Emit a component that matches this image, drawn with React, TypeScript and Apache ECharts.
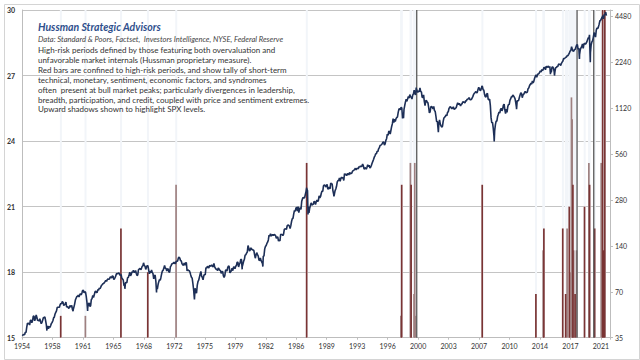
import React, { useEffect, useRef } from "react";
import * as echarts from "echarts";

// ---------- DATA ----------
const xTickLabels = ["1954","1958","1961","1965","1968","1972","1975","1979","1982","1986","1989","1993","1996","2000","2003","2007","2010","2014","2017","2021"];
const leftTickLabels = ["15","18","21","24","27","30"];
const rightTickLabels = ["35","70","140","280","560","1120","2240","4480"];

// S&P 500 month-end levels, starting December 1954
const spxStart = "1954-12";
const spxMonthEnd = [
  35.98,
  36.63,36.76,36.58,37.96,37.91,41.03,43.52,43.18,43.67,42.34,45.51,45.48,
  43.82,45.34,48.48,48.38,45.20,46.97,49.39,47.51,45.35,45.58,45.08,46.67,
  44.72,43.26,44.11,45.74,47.43,47.37,47.91,45.22,42.42,41.06,41.72,39.99,
  41.70,40.84,42.10,43.44,44.09,45.24,47.19,47.75,50.06,51.33,52.48,55.21,
  55.42,55.41,55.44,57.59,58.68,58.47,60.51,59.60,56.88,57.52,58.28,59.89,
  55.61,56.12,55.34,54.37,55.83,56.92,55.51,56.96,53.52,53.39,55.54,58.11,
  61.78,63.44,65.06,65.31,66.56,64.64,66.76,68.07,66.73,68.62,71.32,71.55,
  68.84,69.96,69.55,65.24,59.63,54.75,58.23,59.12,56.27,56.52,62.26,63.10,
  66.20,64.29,66.57,69.80,70.80,69.37,69.13,72.50,71.70,74.01,73.23,75.02,
  77.04,77.80,78.98,79.46,80.37,81.69,83.18,81.83,84.18,84.86,84.42,84.75,
  87.56,87.43,86.16,89.11,88.42,84.12,85.25,87.17,89.96,92.42,91.61,92.43,
  92.88,91.22,89.23,91.06,86.13,84.74,83.60,77.10,76.56,80.20,80.45,80.33,
  86.61,86.78,90.20,94.01,89.08,90.64,94.75,93.64,96.71,93.90,94.00,96.47,
  92.24,89.36,90.20,97.59,98.68,99.58,97.74,98.86,102.67,103.41,108.37,103.86,
  103.01,98.13,101.51,103.69,103.46,97.71,91.83,95.51,93.12,97.24,93.81,92.06,
  85.02,89.50,89.63,81.52,76.55,72.72,78.05,81.52,84.21,83.25,87.20,92.15,
  95.88,96.75,100.31,103.95,99.63,99.70,95.58,99.03,98.34,94.23,93.99,102.09,
  103.94,106.57,107.20,107.67,109.53,107.14,107.39,111.09,110.55,111.58,116.67,118.05,
  116.03,111.68,111.52,106.97,104.95,104.26,108.22,104.25,108.43,108.29,95.96,97.55,
  96.57,96.22,93.98,90.31,87.28,86.00,79.31,72.15,63.54,73.90,69.97,68.56,
  76.98,81.59,83.36,87.30,91.15,95.19,88.75,86.88,83.87,89.04,91.24,90.19,
  100.86,99.71,102.77,101.64,100.18,104.28,103.44,102.91,105.24,102.90,102.10,107.46,
  102.03,99.82,98.42,98.44,96.12,100.48,98.85,96.77,96.53,92.34,94.83,95.10,
  89.25,87.04,89.21,96.83,97.24,95.53,100.68,103.29,102.54,93.15,94.70,96.11,
  99.93,96.28,101.59,101.76,99.08,102.91,103.81,109.32,109.32,101.82,106.16,107.94,
  114.16,113.66,102.09,106.29,111.24,114.24,121.67,122.38,125.46,127.47,140.52,135.76,
  129.55,131.27,136.00,132.81,132.59,131.21,130.92,122.79,116.18,121.89,126.35,122.55,
  120.40,113.11,111.96,116.44,111.88,109.61,107.09,119.51,120.42,133.71,138.54,140.64,
  145.30,148.06,152.96,164.42,162.39,168.11,162.56,164.40,166.07,163.55,166.40,164.93,
  163.41,157.06,159.18,160.05,150.55,153.18,150.66,166.68,166.10,166.09,163.58,167.24,
  179.63,181.18,180.66,179.83,189.55,191.85,190.92,188.63,182.08,189.82,202.17,211.28,
  211.78,226.92,238.90,235.52,247.35,250.84,236.12,252.93,231.32,243.98,249.22,242.17,
  274.08,284.20,291.70,288.36,290.10,304.00,318.66,329.80,321.83,251.79,230.30,247.08,
  257.07,267.82,258.89,261.33,262.16,273.50,272.02,261.52,271.91,278.97,273.70,277.72,
  297.47,288.86,294.87,309.64,320.52,317.98,346.08,351.45,349.15,340.36,345.99,353.40,
  329.08,331.89,339.94,330.80,361.23,358.02,356.15,322.56,306.05,304.00,322.22,330.22,
  343.93,367.07,375.22,375.35,389.83,371.16,387.81,395.43,387.86,392.46,375.22,417.09,
  408.79,412.70,403.69,414.95,415.35,408.14,424.21,414.03,417.80,418.68,431.35,435.71,
  438.78,443.38,451.67,440.19,450.19,450.53,448.13,463.56,458.93,467.83,461.79,466.45,
  481.61,467.14,445.77,450.91,456.50,444.27,458.26,475.49,462.69,472.35,453.69,459.27,
  470.42,487.39,500.71,514.71,533.40,544.75,562.06,561.88,584.41,581.50,605.37,615.93,
  636.02,640.43,645.50,654.17,669.12,670.63,639.95,651.99,687.33,705.27,757.02,740.74,
  786.16,790.82,757.12,801.34,848.28,885.14,954.29,899.47,947.28,914.62,955.40,970.43,
  980.28,1049.34,1101.75,1111.75,1090.82,1133.84,1120.67,957.28,1017.01,1098.67,1163.63,1229.23,
  1279.64,1238.33,1286.37,1335.18,1301.84,1372.71,1328.72,1320.41,1282.71,1362.93,1388.91,1469.25,
  1394.46,1366.42,1498.58,1452.43,1420.60,1454.60,1430.83,1517.68,1436.51,1429.40,1314.95,1320.28,
  1366.01,1239.94,1160.33,1249.46,1255.82,1224.42,1211.23,1133.58,1040.94,1059.78,1139.45,1148.08,
  1130.20,1106.73,1147.39,1076.92,1067.14,989.82,911.62,916.07,815.28,885.76,936.31,879.82,
  855.70,841.15,848.18,916.92,963.59,974.50,990.31,1008.01,995.97,1050.71,1058.20,1111.92,
  1131.13,1144.94,1126.21,1107.30,1120.68,1140.84,1101.72,1104.24,1114.58,1130.20,1173.82,1211.92,
  1181.27,1203.60,1180.59,1156.85,1191.50,1191.33,1234.18,1220.33,1228.81,1207.01,1249.48,1248.29,
  1280.08,1280.66,1294.83,1310.61,1270.09,1270.20,1276.66,1303.82,1335.85,1377.94,1400.63,1418.30,
  1438.24,1406.82,1420.86,1482.37,1530.62,1503.35,1455.27,1473.99,1526.75,1549.38,1481.14,1468.36,
  1378.55,1330.63,1322.70,1385.59,1400.38,1280.00,1267.38,1282.83,1166.36,968.75,896.24,903.25,
  825.88,735.09,797.87,872.81,919.14,919.32,987.48,1020.62,1057.08,1036.19,1095.63,1115.10,
  1073.87,1104.49,1169.43,1186.69,1089.41,1030.71,1101.60,1049.33,1141.20,1183.26,1180.55,1257.64,
  1286.12,1327.22,1325.83,1363.61,1345.20,1320.64,1292.28,1218.89,1131.42,1253.30,1246.96,1257.60,
  1312.41,1365.68,1408.47,1397.91,1310.33,1362.16,1379.32,1406.58,1440.67,1412.16,1416.18,1426.19,
  1498.11,1514.68,1569.19,1597.57,1630.74,1606.28,1685.73,1632.97,1681.55,1756.54,1805.81,1848.36,
  1782.59,1859.45,1872.34,1883.95,1923.57,1960.23,1930.67,2003.37,1972.29,2018.05,2067.56,2058.90,
  1994.99,2104.50,2067.89,2085.51,2107.39,2063.11,2103.84,1972.18,1920.03,2079.36,2080.41,2043.94,
  1940.24,1932.23,2059.74,2065.30,2096.95,2098.86,2173.60,2170.95,2168.27,2126.15,2198.81,2238.83,
  2278.87,2363.64,2362.72,2384.20,2411.80,2423.41,2470.30,2471.65,2519.36,2575.26,2647.58,2673.61,
  2823.81,2713.83,2640.87,2648.05,2705.27,2718.37,2816.29,2901.52,2913.98,2711.74,2760.17,2506.85,
  2704.10,2784.49,2834.40,2945.83,2752.06,2941.76,2980.38,2926.46,2976.74,3037.56,3140.98,3230.78,
  3225.52,2954.22,2584.59,2912.43,3044.31,3100.29,3271.12,3500.31,3363.00,3269.96,3621.63,3756.07,
  3714.24,3811.15,3972.89,4181.17,4204.11,4297.50,4395.26,4522.68,4307.54,4605.38,4567.00,4766.18,
  4515.55
];

// intra-month highs and lows
const spxSwingDates = ["1957-10-22","1960-10-25","1962-06-26","1966-10-07","1970-05-26","1974-10-03","1978-03-06","1980-03-27","1982-08-12","1987-08-25","1987-10-19","1990-10-11","1998-10-08","2000-03-24","2002-10-09","2007-10-09","2009-03-09","2010-07-02","2011-10-03","2015-08-25","2016-02-11","2018-12-24","2020-02-19","2020-03-23","2022-01-03"];
const spxSwingValues = [38.98,52.30,52.32,73.20,69.29,62.28,86.90,98.22,102.42,336.77,224.84,295.46,959.44,1527.46,776.76,1565.15,676.53,1022.58,1099.23,1867.61,1829.08,2351.10,3386.15,2237.40,4796.56];

// tally of high-risk syndromes (red bars), left axis
const tallyDarkDates = ["1959-05","1966-04","1969-05","1987-08","1998-07","1999-08","2007-10","2013-12","2014-11","2017-01","2017-05","2017-10","2018-03","2018-06","2019-07","2020-02","2020-09","2021-08","2021-09","2021-11"];
const tallyDarkValues = [16,20,18,23,22,22,22,17,20,20,17,21,22,17,21,22,20,30,19,30];
const tallyLightDates = ["1962-03","1972-08","1998-06","1999-07","1999-12","2000-01","2000-02","2014-10","2017-07","2017-11","2018-01","2018-02","2018-04","2018-08","2020-01","2021-06"];
const tallyLightValues = [16,22,16,23,17,23,16,19,20,18,26,25,19,19,23,23];
const extremeDates = ["2000-04","2018-09","2020-08"];
const extremeValues = [30,30,30];

const titleText = "Hussman Strategic Advisors";
const sourceText = "Data: Standard & Poors, Factset,  Investors Intelligence, NYSE, Federal Reserve";
const noteLines = [
  "High-risk periods defined by those featuring both overvaluation and",
  "unfavorable market internals (Hussman proprietary measure).",
  "Red bars are confined to high-risk periods, and show tally of short-term",
  "technical, monetary, sentiment, economic factors, and syndromes",
  "often  present at bull market peaks; particularly divergences in leadership,",
  "breadth, participation, and credit, coupled with price and sentiment extremes.",
  "Upward shadows shown to highlight SPX levels."
];

// ---------- helpers ----------
const BASE_YEAR = 1954.95;
const RIGHT_BASE = 35;
function toMonth(s: string, defDay: number): number {
  const p = s.split("-").map(Number);
  const d = p[2] !== undefined ? p[2] : defDay;
  return (p[0] + (p[1] - 1) / 12 + d / 365 - BASE_YEAR) * 12;
}
const rightToAxis = (v: number) => Math.log2(v / RIGHT_BASE);

function buildLine(): number[][] {
  const [sy, sm] = spxStart.split("-").map(Number);
  const pts: number[][] = spxMonthEnd.map((v, i) => {
    const k = sm - 1 + i;
    const y = sy + Math.floor(k / 12);
    const mo = (k % 12) + 1;
    return [toMonth(`${y}-${String(mo).padStart(2, "0")}`, 29), rightToAxis(v)];
  });
  spxSwingDates.forEach((d, i) => pts.push([toMonth(d, 15), rightToAxis(spxSwingValues[i])]));
  pts.sort((a, b) => a[0] - b[0]);
  return pts;
}
const barData = (dates: string[], vals: number[]) => dates.map((d, i) => [toMonth(d, 15), vals[i]]);

const FONT = "Lato, 'Open Sans', sans-serif";

export default function App() {
  const ref = useRef<HTMLDivElement>(null);
  useEffect(() => {
    if (!ref.current) return;
    const chart = echarts.init(ref.current, null, { renderer: "svg" });
    const shadowDates = [...tallyDarkDates, ...tallyLightDates];
    const option: any = {
      animation: false,
      backgroundColor: "#ffffff",
      grid: { left: 22, right: 30, top: 10, bottom: 22.3 },
      xAxis: {
        type: "value",
        min: 0,
        max: 810.5,
        interval: 42,
        axisLine: { show: true, lineStyle: { color: "#bdbdbd" } },
        axisTick: { show: true, length: 2, lineStyle: { color: "#bdbdbd" } },
        splitLine: { show: false },
        axisLabel: {
          fontSize: 7, color: "#333", fontFamily: FONT, margin: 5,
          formatter: (v: number) => {
            const k = v / 42;
            return Math.abs(k - Math.round(k)) < 1e-6 ? (xTickLabels[Math.round(k)] ?? "") : "";
          },
        },
      },
      yAxis: [
        {
          type: "value", min: 15, max: 30, interval: 3,
          axisLine: { show: true, lineStyle: { color: "#bdbdbd" } },
          axisTick: { show: false },
          splitLine: { show: true, lineStyle: { color: "#c4c4c4", width: 1 } },
          axisLabel: {
            fontSize: 7, color: "#333", fontFamily: FONT, margin: 7, fontWeight: "bold",
            formatter: (v: number) => leftTickLabels[Math.round((v - 15) / 3)] ?? "",
          },
        },
        {
          type: "value", min: 0, max: 7.135, interval: 1, position: "right",
          axisLine: { show: true, lineStyle: { color: "#bdbdbd" } },
          axisTick: { show: true, length: 3, lineStyle: { color: "#bdbdbd" } },
          splitLine: { show: false },
          axisLabel: {
            fontSize: 7, color: "#333", fontFamily: FONT, margin: 5,
            formatter: (v: number) =>
              Math.abs(v - Math.round(v)) < 1e-6 ? (rightTickLabels[Math.round(v)] ?? "") : "",
          },
        },
      ],
      graphic: [
        {
          type: "rect", left: 2, top: 2, z: -10, silent: true,
          shape: { width: 635, height: 355 },
          style: { fill: "none", stroke: "#d4d4d4", lineWidth: 1 },
        },
        {
          type: "text", x: 38, y: 27, z: 50,
          style: { text: titleText, font: `italic bold 10.5px ${FONT}`, fill: "#2f4f8c", verticalAlign: "middle" },
        },
        {
          type: "text", x: 38, y: 38.7, z: 50,
          style: { text: sourceText, font: `italic 7.6px ${FONT}`, fill: "#444", verticalAlign: "middle" },
        },
        ...noteLines.map((t, i) => ({
          type: "text", x: 38, y: 50.3 + i * 9.85, z: 50,
          style: { text: t, font: `8px ${FONT}`, fill: "#333", verticalAlign: "middle" },
        })),
      ],
      series: [
        {
          name: "shadow", type: "bar", yAxisIndex: 0, barWidth: 2, barGap: "-100%", z: 1,
          itemStyle: { color: "#f2f5f9" }, silent: true,
          data: barData(shadowDates, shadowDates.map(() => 30)),
        },
        {
          name: "tallyLight", type: "bar", yAxisIndex: 0, barWidth: 1.7, barGap: "-100%", z: 2,
          itemStyle: { color: "#9e8080" },
          data: barData(tallyLightDates, tallyLightValues),
        },
        {
          name: "tallyDark", type: "bar", yAxisIndex: 0, barWidth: 1.7, barGap: "-100%", z: 2,
          itemStyle: { color: "#7a3434" },
          data: barData(tallyDarkDates, tallyDarkValues),
        },
        {
          name: "extreme", type: "bar", yAxisIndex: 0, barWidth: 1.3, barGap: "-100%", z: 2,
          itemStyle: { color: "#5a5a5a" },
          data: barData(extremeDates, extremeValues),
        },
        {
          name: "SPX", type: "line", yAxisIndex: 1, showSymbol: false, z: 5,
          lineStyle: { color: "#1d2f57", width: 1.6 },
          data: buildLine(),
        },
      ],
    };
    chart.setOption(option);
    return () => chart.dispose();
  }, []);
  return (
    <div
      ref={ref}
      style={{ width: 640, height: 360, position: "fixed", left: 0, top: 0, background: "#fff" }}
    />
  );
}
